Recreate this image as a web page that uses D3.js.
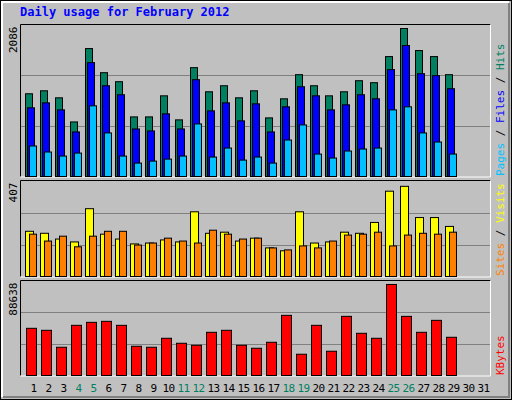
<!DOCTYPE html>
<html>
  <head>
    <meta charset="utf-8">
    <script src="https://d3js.org/d3.v7.min.js"></script>
    <style>
      body { margin: 0; background: #fff; }
      text { font-family: "DejaVu Sans Mono", monospace; }
    </style>
  </head>
  <body>
    <script>
    // values
    var days = d3.range(1, 32);
    var weekend = [4, 5, 11, 12, 18, 19, 25, 26];
    var hits = [1166,1208,1109,769,1803,1463,1336,840,840,1137,798,1534,1194,1279,1109,1208,826,1095,1435,1279,1137,1194,1350,1322,1690,2086,1775,1690,1435];
    var files = [968,1038,939,628,1605,1279,1152,670,642,883,670,1364,925,1038,784,1024,628,982,1265,1137,939,1010,1152,1095,1506,1845,1449,1421,1237];
    var pages = [430,345,288,330,996,614,288,189,217,245,288,741,274,401,231,274,189,514,727,316,260,359,387,401,939,982,614,486,316];
    var visits = [204,195,169,156,306,191,169,147,151,165,156,292,195,200,160,173,129,116,292,151,156,200,195,244,385,407,266,266,226];
    var sites = [191,160,182,134,182,204,204,142,151,173,160,151,209,191,169,173,129,120,138,129,160,187,191,200,138,187,195,191,200];
    var kbytes = [45937,43996,27497,48848,51760,52730,48848,28468,27497,36232,31380,29439,42055,43996,29439,26527,32350,58554,20704,48848,23616,57583,41085,36232,88638,57583,42055,53701,37203];

    var W = 512, H = 400;
    var svg = d3.select("body").append("svg").attr("width", W).attr("height", H);

    // background and bevel
    svg.append("rect").attr("x", 0.5).attr("y", 0.5).attr("width", W - 1).attr("height", H - 1)
      .attr("fill", "#c0c0c0").attr("stroke", "#000");
    svg.append("path").attr("d", "M2,397V2H509").attr("fill", "none").attr("stroke", "#fff").attr("stroke-width", 2);
    svg.append("path").attr("d", "M3,397H509V3").attr("fill", "none").attr("stroke", "#808080").attr("stroke-width", 2);

    svg.append("text").attr("x", 20).attr("y", 16).attr("fill", "#0000ff")
      .attr("font-size", 12).attr("font-weight", "bold").text("Daily usage for February 2012");

    var x = d3.scaleBand().domain(days).range([25.5, 490.5]);

    function panel(top, bottom, max, topVal) {
      // plot frame
      svg.append("path").attr("d", "M20.5," + bottom + "V" + top + "H490.5").attr("fill", "none").attr("stroke", "#000");
      svg.append("path").attr("d", "M20.5," + (bottom + 0.5) + "H490.5V" + top).attr("fill", "none").attr("stroke", "#fff");
      var y = d3.scaleLinear().domain([0, max]).range([bottom, top]);
      [max / 3, 2 * max / 3].forEach(function(v) {
        svg.append("line").attr("x1", 21).attr("x2", 490).attr("y1", Math.round(y(v)) + 0.5).attr("y2", Math.round(y(v)) + 0.5)
          .attr("stroke", "#808080");
      });
      svg.append("text").attr("transform", "translate(17," + (top + 2) + ") rotate(-90)")
        .attr("text-anchor", "end").attr("font-size", 11).attr("fill", "#000").text(topVal);
      return y;
    }

    function bars(data, y, off, w, color) {
      svg.append("g").selectAll("rect").data(data).join("rect")
        .attr("x", function(d, i) { return x(i + 1) + off; })
        .attr("y", function(d) { return y(d); })
        .attr("width", w)
        .attr("height", function(d) { return y(0) - y(d); })
        .attr("fill", color).attr("stroke", "#000");
    }

    function sideLabel(parts, yBottom) {
      var t = svg.append("text").attr("transform", "translate(504," + yBottom + ") rotate(-90)")
        .attr("font-size", 11);
      parts.forEach(function(p) { t.append("tspan").attr("fill", p[1]).text(p[0]); });
    }

    // Hits / Files / Pages
    var y1 = panel(24.5, 176.5, 2086 * 152 / 148, d3.max(hits));
    bars(hits, y1, 0, 7, "#008060");
    bars(files, y1, 2, 7, "#0000ff");
    bars(pages, y1, 4, 7, "#00c0ff");
    sideLabel([["Pages", "#00c0ff"], [" / ", "#000"], ["Files", "#0000ff"], [" / ", "#000"], ["Hits", "#008060"]], 176);

    // Visits / Sites
    var y2 = panel(180.5, 276.5, 407 * 99 / 93, d3.max(visits));
    bars(visits, y2, 0, 8, "#ffff00");
    bars(sites, y2, 4, 7, "#ff8000");
    sideLabel([["Sites", "#ff8000"], [" / ", "#000"], ["Visits", "#ffff00"]], 276);

    // KBytes
    var y3 = panel(280.5, 375.5, 88638 * 96 / 92, d3.max(kbytes));
    bars(kbytes, y3, 1, 10, "#ff0000");
    sideLabel([["KBytes", "#ff0000"]], 375);

    // day labels
    svg.append("g").selectAll("text").data(days).join("text")
      .attr("x", function(d) { return x(d) + x.bandwidth() / 2 + 0.5; })
      .attr("y", 392).attr("text-anchor", "middle").attr("font-size", 11)
      .attr("letter-spacing", -0.5)
      .attr("fill", function(d) { return weekend.indexOf(d) >= 0 ? "#008060" : "#000"; })
      .text(function(d) { return d; });
    </script>
  </body>
</html>
